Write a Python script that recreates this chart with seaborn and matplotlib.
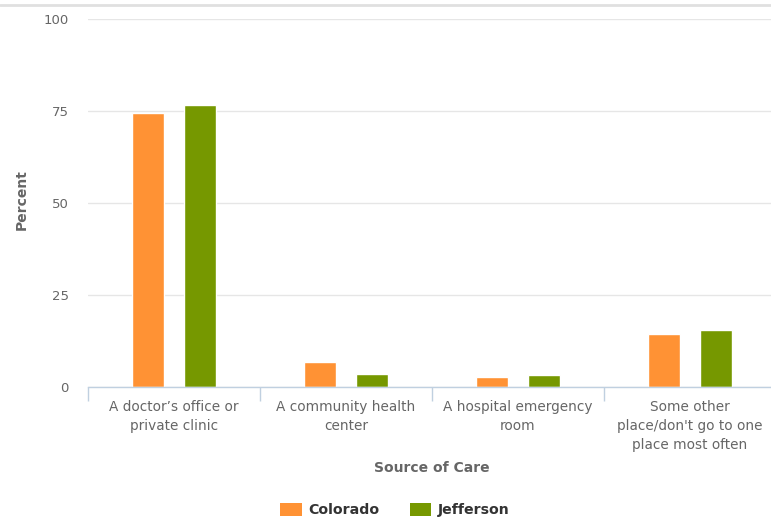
import matplotlib
matplotlib.use("Agg")
import matplotlib.pyplot as plt
from matplotlib.patches import Patch
from matplotlib.lines import Line2D
import seaborn as sns
import pandas as pd

categories = [
    "A doctor\u2019s office or\nprivate clinic",
    "A community health\ncenter",
    "A hospital emergency\nroom",
    "Some other\nplace/don't go to one\nplace most often",
]
colorado = [74.4, 6.8, 2.8, 14.4]
jefferson = [76.5, 3.5, 3.3, 15.5]
series_names = ["Colorado", "Jefferson"]
y_ticks = [0, 25, 50, 75, 100]

df = pd.DataFrame({
    "source": categories * 2,
    "percent": colorado + jefferson,
    "county": [series_names[0]] * len(categories) + [series_names[1]] * len(categories),
})

sns.set_theme(style="white")
plt.rcParams["font.family"] = ["DejaVu Sans"]

W, H = 771, 523
fig = plt.figure(figsize=(W / 100, H / 100), dpi=100)
ax = fig.add_axes([88 / W, 136 / H, 688 / W, 368 / H])

colors = ["#FF9234", "#769800"]
sns.barplot(data=df, x="source", y="percent", hue="county", order=categories,
            hue_order=series_names, palette=colors, saturation=1, width=0.6, gap=0.37,
            edgecolor="white", linewidth=1, errorbar=None, legend=False, ax=ax)

ax.set_xlim(-0.5, 3.5)
ax.set_ylim(0, 100)
ax.set_yticks(y_ticks)
ax.yaxis.grid(True, color="#E6E6E6", linewidth=1)
ax.set_axisbelow(True)
for s in ["top", "right", "left"]:
    ax.spines[s].set_visible(False)
ax.spines["bottom"].set_color("#C0D0E0")
ax.spines["bottom"].set_linewidth(1)

ax.tick_params(axis="y", length=0, pad=14, labelsize=9.5, labelcolor="#666666")
ax.tick_params(axis="x", which="major", length=0, pad=9.5, labelsize=9.8, labelcolor="#666666")
for lbl in ax.get_xticklabels():
    lbl.set_linespacing(1.45)
ax.set_xticks([-0.5, 0.5, 1.5, 2.5, 3.5], minor=True)
ax.tick_params(axis="x", which="minor", bottom=True, length=10, width=1,
               color="#C0D0E0", direction="out")

ax.set_ylabel("Percent", fontsize=10, fontweight="bold", color="#666666")
ax.yaxis.set_label_coords(-59 / 688, 0.51)
ax.set_xlabel("Source of Care", fontsize=10, fontweight="bold", color="#666666")
ax.xaxis.set_label_coords(0.5, -74 / 368)

handles = [Patch(facecolor=c, edgecolor="none") for c in colors]
fig.legend(handles, series_names, loc="center", bbox_to_anchor=(395 / W, 1 - 510 / H),
           ncol=2, frameon=False, prop={"weight": "bold", "size": 10.2},
           labelcolor="#333333", handlelength=1.5, handleheight=1.1,
           handletextpad=0.5, columnspacing=2.1)

fig.add_artist(Line2D([0, 1], [1 - 4.5 / H, 1 - 4.5 / H], color="#E0E0E0", linewidth=2,
                      transform=fig.transFigure))

fig.savefig("out.png", dpi=100)
